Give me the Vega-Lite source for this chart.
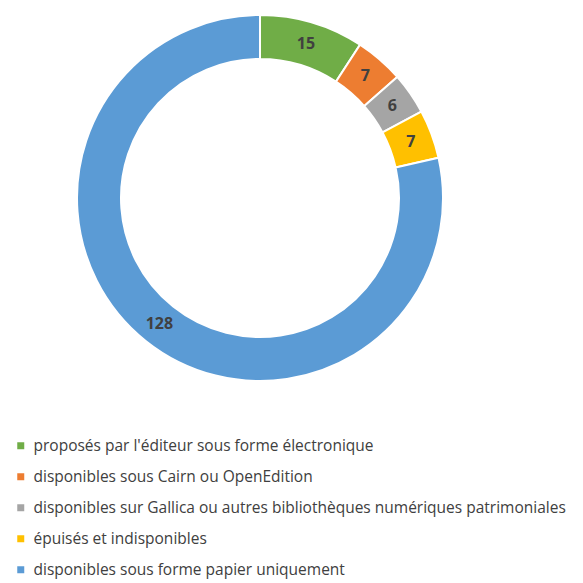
{
  "$schema": "https://vega.github.io/schema/vega-lite/v6.json",
  "autosize": {"type": "none"},
  "padding": {"left": 0, "top": 0, "right": 63, "bottom": 187},
  "width": 520,
  "height": 396,
  "background": "white",
  "data": {
    "values": [
      {"cat": "proposés par l'éditeur sous forme électronique", "n": 15, "o": 1},
      {"cat": "disponibles sous Cairn ou OpenEdition", "n": 7, "o": 2},
      {"cat": "disponibles sur Gallica ou autres bibliothèques numériques patrimoniales", "n": 6, "o": 3},
      {"cat": "épuisés et indisponibles", "n": 7, "o": 4},
      {"cat": "disponibles sous forme papier uniquement", "n": 128, "o": 5}
    ]
  },
  "encoding": {
    "theta": {"field": "n", "type": "quantitative", "stack": true},
    "order": {"field": "o", "type": "quantitative"}
  },
  "layer": [
    {
      "mark": {"type": "arc", "radius": 183, "innerRadius": 139, "stroke": "white", "strokeWidth": 2},
      "encoding": {
        "color": {
          "field": "cat",
          "type": "nominal",
          "scale": {
            "domain": [
              "proposés par l'éditeur sous forme électronique",
              "disponibles sous Cairn ou OpenEdition",
              "disponibles sur Gallica ou autres bibliothèques numériques patrimoniales",
              "épuisés et indisponibles",
              "disponibles sous forme papier uniquement"
            ],
            "range": ["#70AD47", "#ED7D31", "#A5A5A5", "#FFC000", "#5B9BD5"]
          },
          "legend": {
            "title": null,
            "orient": "none",
            "legendX": 13,
            "legendY": 438,
            "symbolType": "square",
            "symbolSize": 49,
            "symbolStrokeWidth": 0,
            "labelFont": "Open Sans",
            "labelFontSize": 15.5,
            "labelColor": "#404040",
            "labelLimit": 0,
            "rowPadding": 14,
            "labelOffset": 5
          }
        }
      }
    },
    {
      "mark": {"type": "text", "radius": 161, "font": "Open Sans", "fontSize": 16, "fontWeight": "bold", "fill": "#404040"},
      "encoding": {
        "text": {"field": "n", "type": "quantitative"}
      }
    }
  ]
}
